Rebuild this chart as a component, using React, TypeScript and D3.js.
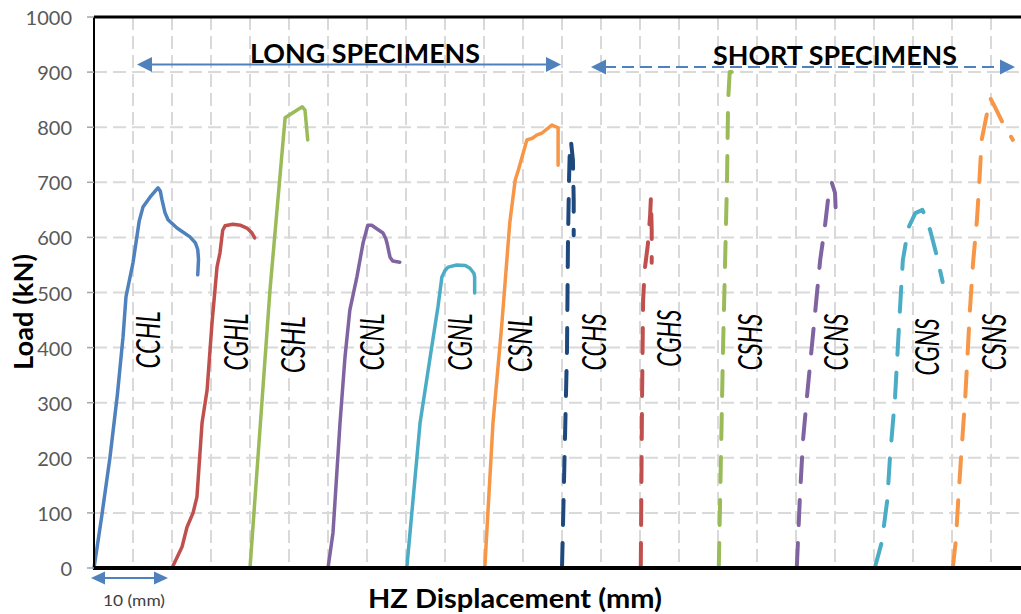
import React from 'react';
import * as d3 from 'd3';

// ---------- data (x: HZ displacement in mm, y: load in kN) ----------
const yTicks = [0, 100, 200, 300, 400, 500, 600, 700, 800, 900, 1000];
const xGridMm = [5, 10, 15, 20, 25, 30, 35, 40, 45, 50, 55, 60, 65, 70, 75, 80, 85, 90, 95, 100, 105, 110, 115, 120];

const CCHL: [number, number][] = [[0, 0], [1.0, 95], [2.05, 201], [3.0, 315], [3.72, 419], [4.1, 492], [5.0, 554], [5.8, 630], [6.28, 655], [7.18, 673], [8.2, 690], [8.5, 684], [8.72, 668], [9.1, 645], [9.49, 632], [10.64, 617], [12.3, 601], [13.0, 590], [13.3, 578], [13.4, 560], [13.3, 532]];
const CGHL: [number, number][] = [[10.0, 0], [11.28, 38], [11.92, 74], [12.7, 100], [13.2, 129], [13.85, 263], [14.5, 323], [15.13, 445], [15.77, 546], [16.15, 572], [16.5, 613], [16.8, 621], [17.8, 624], [18.8, 622], [19.6, 617], [20.2, 609], [20.6, 599]];
const CSHL: [number, number][] = [[20.0, 0], [22.56, 504], [24.5, 817], [26.7, 837], [27.05, 831], [27.4, 777]];
const CCNL: [number, number][] = [[30.0, 0], [30.64, 64], [31.54, 263], [32.18, 383], [32.8, 468], [33.7, 528], [34.5, 590], [35.1, 622], [35.6, 622], [37.05, 608], [37.4, 598], [37.56, 590], [37.95, 564], [38.3, 557], [39.2, 555]];
const CGNL: [number, number][] = [[40.1, 0], [41.8, 263], [43.1, 383], [44.1, 474], [44.6, 528], [45.0, 540], [45.4, 546], [46.5, 550], [47.6, 549], [48.2, 544], [48.7, 535], [48.8, 528], [48.8, 499]];
const CSNL: [number, number][] = [[50.1, 0], [51.15, 263], [52.3, 445], [53.3, 626], [54.0, 704], [54.4, 722], [55.5, 777], [56.2, 780], [56.8, 786], [57.4, 789], [58.1, 797], [58.7, 804], [59.5, 799], [59.5, 731]];
const CCHS: [number, number][] = [[60.0, 0], [60.64, 395], [60.77, 595], [60.9, 704], [61.0, 759], [61.15, 775], [61.4, 740], [61.5, 668], [61.5, 604]];
const CGHS: [number, number][] = [[70.1, 0], [70.26, 305], [70.4, 486], [70.6, 541], [71.0, 586], [71.3, 641], [71.4, 672], [71.5, 613], [71.5, 554]];
const CSHS: [number, number][] = [[80.1, 0], [80.64, 395], [81.15, 699], [81.3, 849], [81.5, 900], [81.9, 900], [82.4, 882]];
const CCNS: [number, number][] = [[90.1, 0], [90.5, 129], [90.9, 232], [91.4, 310], [92.4, 456], [93.1, 559], [93.7, 619], [94.1, 668], [94.6, 699], [95.0, 681], [95.1, 646]];
const CGNS: [number, number][] = [[100.1, 0], [101.0, 47], [101.7, 123], [102.05, 201], [102.7, 310], [103.3, 463], [103.7, 559], [104.4, 617], [105.3, 644], [106.2, 650], [106.5, 641], [107.2, 613], [108.1, 564], [108.8, 519]];
const CSNS: [number, number][] = [[110.1, 0], [110.5, 51], [110.8, 123], [111.2, 209], [111.7, 310], [112.3, 468], [112.7, 554], [113.2, 632], [113.5, 699], [113.8, 777], [114.5, 826], [114.9, 853], [115.5, 837], [116.5, 808], [117.8, 777]];

const seriesNames = ['CCHL', 'CGHL', 'CSHL', 'CCNL', 'CGNL', 'CSNL', 'CCHS', 'CGHS', 'CSHS', 'CCNS', 'CGNS', 'CSNS'];
const seriesData = [CCHL, CGHL, CSHL, CCNL, CGNL, CSNL, CCHS, CGHS, CSHS, CCNS, CGNS, CSNS];
const seriesColors = ['#4F81BD', '#C0504D', '#9BBB59', '#8064A2', '#4BACC6', '#F79646', '#1F497D', '#C0504D', '#9BBB59', '#8064A2', '#4BACC6', '#F79646'];
const seriesDashed = [false, false, false, false, false, false, true, true, true, true, true, true];
// label anchor in data coordinates (mm, kN)
const labelMm = [6.9, 18.1, 25.4, 35.6, 46.9, 54.6, 64.1, 73.7, 84.0, 95.1, 106.7, 115.3];
const labelKn = [414, 410, 405, 410, 410, 407, 410, 417, 410, 410, 401, 410];

const W = 1021;
const H = 614;
const left = 94;
const top = 17;
const bottom = 568;

export default function App() {
  const x = d3.scaleLinear().domain([0, 120]).range([left, left + 120 * 7.8]);
  const y = d3.scaleLinear().domain([0, 1000]).range([bottom, top]);
  const line = d3
    .line<[number, number]>()
    .x((d) => x(d[0]))
    .y((d) => y(d[1]))
    .curve(d3.curveLinear);

  const font = 'Lato, "Open Sans", sans-serif';
  const blue = '#4F81BD';

  const arrowHead = (tipX: number, cy: number, dir: number, len = 15, half = 7.5) =>
    `M${tipX},${cy} L${tipX - dir * len},${cy - half} L${tipX - dir * len},${cy + half} Z`;

  return (
    <svg
      width={W}
      height={H}
      style={{ position: 'absolute', left: 0, top: 0, background: '#fff' }}
      fontFamily={font}
    >
      <rect x={0} y={0} width={W} height={H} fill="#fff" />
      {/* gridlines */}
      <g stroke="#D9D9D9" strokeWidth={2} strokeDasharray="13,6">
        {yTicks.slice(1, -1).map((t) => (
          <line key={'h' + t} x1={left} x2={W} y1={y(t)} y2={y(t)} />
        ))}
        {xGridMm.map((m) => (
          <line key={'v' + m} x1={x(m)} x2={x(m)} y1={top} y2={bottom} />
        ))}
      </g>

      {/* curves */}
      <g fill="none" strokeLinecap="round" strokeLinejoin="round">
        {seriesData.map((d, i) => (
          <path
            key={seriesNames[i]}
            d={line(d) || ''}
            stroke={seriesColors[i]}
            strokeWidth={seriesDashed[i] ? 4 : 3.5}
            strokeDasharray={seriesDashed[i] ? '25,18' : undefined}
          />
        ))}
      </g>

      {/* axes and frame */}
      <line x1={left} x2={W} y1={top} y2={top} stroke="#000" strokeWidth={3} />
      <line x1={left} x2={left} y1={top} y2={bottom} stroke="#000" strokeWidth={2} />
      <line x1={left - 1} x2={W} y1={bottom} y2={bottom} stroke="#000" strokeWidth={4} />
      <g stroke="#A6A6A6" strokeWidth={1.5}>
        {yTicks.map((t) => (
          <line key={'t' + t} x1={left - 7} x2={left} y1={y(t)} y2={y(t)} />
        ))}
      </g>
      <g fill="#595959" fontSize={20} textAnchor="end">
        {yTicks.map((t) => (
          <text key={'l' + t} x={72} y={y(t)} dominantBaseline="central">
            {t}
          </text>
        ))}
      </g>

      {/* axis titles */}
      <text
        transform={`translate(23,${312}) rotate(-90)`}
        textAnchor="middle"
        dominantBaseline="central"
        fontWeight="bold"
        fontSize={26}
        fill="#000"
        textLength={116}
        lengthAdjust="spacingAndGlyphs"
      >
        Load (kN)
      </text>
      <text
        x={515}
        y={608}
        textAnchor="middle"
        fontWeight="bold"
        fontSize={27}
        fill="#000"
        textLength={294}
        lengthAdjust="spacingAndGlyphs"
      >
        HZ Displacement (mm)
      </text>

      {/* 10 mm scale arrow */}
      <line x1={x(0) + 8} x2={x(10) - 12} y1={578} y2={578} stroke={blue} strokeWidth={2} />
      <path d={arrowHead(x(0) - 3, 578, -1, 14, 6.5)} fill={blue} />
      <path d={arrowHead(x(10) - 4, 578, 1, 14, 6.5)} fill={blue} />
      <text
        x={134}
        y={606}
        textAnchor="middle"
        fontSize={15}
        fill="#404040"
        textLength={62}
        lengthAdjust="spacingAndGlyphs"
      >
        10 (mm)
      </text>

      {/* specimen group annotations */}
      <line x1={150} x2={547} y1={64.5} y2={64.5} stroke={blue} strokeWidth={1.8} />
      <path d={arrowHead(137, 64.5, -1)} fill={blue} />
      <path d={arrowHead(561, 64.5, 1)} fill={blue} />
      <line x1={604} x2={1000} y1={67} y2={67} stroke={blue} strokeWidth={1.8} strokeDasharray="12,6" />
      <path d={arrowHead(591, 67, -1)} fill={blue} />
      <path d={arrowHead(1015, 67, 1)} fill={blue} />
      <text
        x={365}
        y={63}
        textAnchor="middle"
        fontWeight="bold"
        fontSize={27}
        fill="#000"
        textLength={230}
        lengthAdjust="spacingAndGlyphs"
      >
        LONG SPECIMENS
      </text>
      <text
        x={835}
        y={65}
        textAnchor="middle"
        fontWeight="bold"
        fontSize={27}
        fill="#000"
        textLength={244}
        lengthAdjust="spacingAndGlyphs"
      >
        SHORT SPECIMENS
      </text>

      {/* curve labels */}
      <g fontSize={32} fontStyle="italic" fill="#000">
        {seriesNames.map((n, i) => (
          <text
            key={'lab' + n}
            transform={`translate(${x(labelMm[i])},${y(labelKn[i])}) rotate(-90)`}
            textAnchor="middle"
            dominantBaseline="central"
            textLength={57}
            lengthAdjust="spacingAndGlyphs"
          >
            {n}
          </text>
        ))}
      </g>
    </svg>
  );
}
